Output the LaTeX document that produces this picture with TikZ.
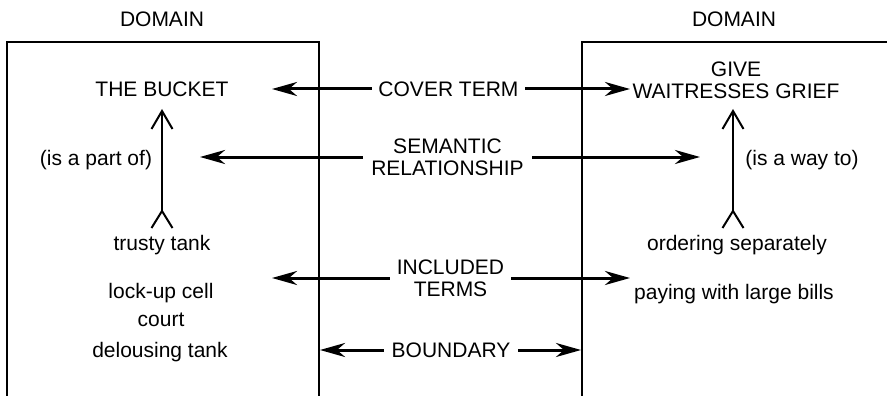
\documentclass[tikz,border=0pt]{standalone}
\usepackage{fontspec}
\setmainfont{Liberation Sans}
\usetikzlibrary{arrows.meta}
\begin{document}
\begin{tikzpicture}[x=1pt,y=-1pt,
  txt/.style={inner sep=0pt, font=\fontsize{21}{22}\selectfont, align=center},
  lbl/.style={txt, anchor=base},
  gaplbl/.style={txt, minimum height=0pt},
  boxline/.style={line width=2pt},
  harrow/.style={line width=3pt, -{Stealth[length=25pt,width=14pt,inset=8pt]}},
  varrow/.style={line width=2pt,
    {Straight Barb[reversed,length=17pt,width=21pt]}-{Straight Barb[length=18pt,width=21pt]}}
]
\useasboundingbox (0,0) rectangle (887,396);

% the two domains, open at the bottom
\draw[boxline] (7,396) -- (7,42) -- (319,42) -- (319,396);
\draw[boxline] (582,396) -- (582,42) -- (887,42);
\node[lbl] (domL) at (162,27) {DOMAIN};
\node[lbl] (domR) at (734,27) {DOMAIN};

% left domain
\node[lbl] (bucket) at (162,97) {THE BUCKET};
\node[lbl] (partof) at (96,165) {(is a part of)};
\node[lbl] (trusty) at (162,250) {trusty tank};
\node[lbl] (lockup) at (161,298) {lock-up cell};
\node[lbl] (court) at (161,326) {court};
\node[lbl] (delouse) at (160,357) {delousing tank};

% right domain
\node[txt] (give) at (736,80) {GIVE\\WAITRESSES GRIEF};
\node[lbl] (wayto) at (802,165) {(is a way to)};
\node[lbl] (ordering) at (737,250) {ordering separately};
\node[lbl] (paying) at (734,299) {paying with large bills};

% labels in the gap between the domains
\node[gaplbl, minimum width=153pt] (cover) at (448.5,89) {COVER TERM};
\node[gaplbl, minimum width=169pt] (sem) at (447.5,157) {SEMANTIC\\RELATIONSHIP};
\node[gaplbl, minimum width=121pt] (inc) at (450.5,278) {INCLUDED\\TERMS};
\node[gaplbl, minimum width=134pt] (bnd) at (451,350) {BOUNDARY};

% arrow ends
\coordinate (coverL) at (272,89);
\coordinate (coverR) at (630,89);
\coordinate (semL) at (200,157);
\coordinate (semR) at (700,157);
\coordinate (incL) at (272,278);
\coordinate (incR) at (630,278);
\coordinate (bndL) at (320,350);
\coordinate (bndR) at (581,350);
\coordinate (tailL) at (162,229);
\coordinate (headL) at (162,109);
\coordinate (tailR) at (733,229);
\coordinate (headR) at (733,109);

\draw[harrow] (cover.west) -- (coverL);
\draw[harrow] (cover.east) -- (coverR);
\draw[harrow] (sem.west) -- (semL);
\draw[harrow] (sem.east) -- (semR);
\draw[harrow] (inc.west) -- (incL);
\draw[harrow] (inc.east) -- (incR);
\draw[harrow] (bnd.west) -- (bndL);
\draw[harrow] (bnd.east) -- (bndR);

\draw[varrow] (tailL) -- (headL);
\draw[varrow] (tailR) -- (headR);
\end{tikzpicture}
\end{document}
